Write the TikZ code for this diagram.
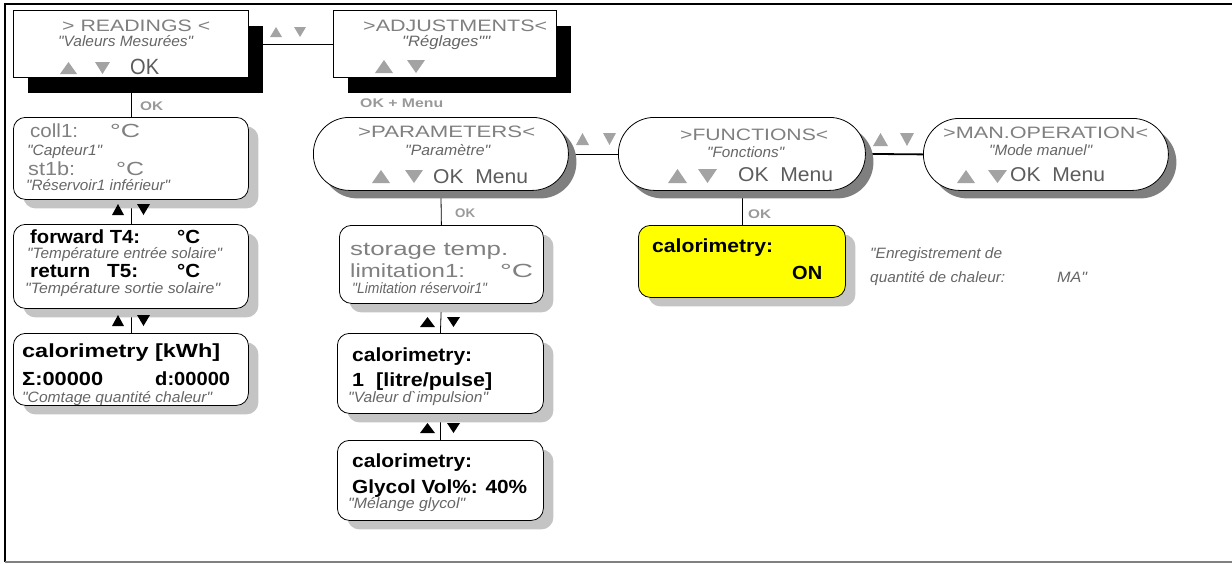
\documentclass[tikz,border=0pt]{standalone}
\usepackage{fontspec}
\usepackage{graphicx}
\setmainfont{Liberation Sans}
\newfontfamily\notefont{Liberation Sans}
\usetikzlibrary{shadows,backgrounds}

\definecolor{hdgrey}{HTML}{808080}
\definecolor{okgrey}{HTML}{5C5C5C}
\definecolor{itgrey}{HTML}{666666}
\definecolor{trigrey}{HTML}{A3A3A3}
\definecolor{lblgrey}{HTML}{999999}
\definecolor{shlight}{HTML}{C4C4C4}
\definecolor{shdark}{HTML}{7F7F7F}
\definecolor{calyellow}{HTML}{FFFF00}

% stretch a text horizontally to a given width (in pt), keeping its height
\newcommand{\fitw}[2]{\resizebox{#1pt}{\height}{#2}}
\newcommand{\fhd}{\fontsize{16.5}{17}\selectfont\color{hdgrey}}
\newcommand{\fbody}{\fontsize{19}{20}\selectfont\color{hdgrey}}
\newcommand{\fbold}{\fontsize{19}{20}\selectfont\bfseries\color{black}}
\newcommand{\fnote}{\notefont\fontsize{15}{16}\selectfont\itshape\color{itgrey}}
\newcommand{\fkey}{\fontsize{20}{20}\selectfont\color{okgrey}}
\newcommand{\flbl}{\fontsize{12.5}{13}\selectfont\bfseries\color{lblgrey}}
% key triangles: x-left, x-right, y-top, y-bottom, colour
\newcommand{\keyup}[5]{\fill[#5] (#1,#4) -- (#2,#4) -- ({(#1+#2)/2},#3) -- cycle;}
\newcommand{\keydn}[5]{\fill[#5] (#1,#3) -- (#2,#3) -- ({(#1+#2)/2},#4) -- cycle;}

\begin{document}
\begin{tikzpicture}[x=1pt,y=-1pt,
  lbl/.style={inner sep=0pt, anchor=base west},
  menubox/.style={draw=black, fill=white, line width=0.8pt, anchor=north west, inner sep=0pt,
    drop shadow={shadow xshift=15pt, shadow yshift=-16pt, fill=black, opacity=1}},
  rbox/.style={draw=black, fill=white, line width=0.8pt, rounded corners=12pt, anchor=north west, inner sep=0pt,
    drop shadow={shadow xshift=10pt, shadow yshift=-9pt, fill=shlight, opacity=1}},
  pill/.style={draw=black, fill=white, line width=0.8pt, rounded corners=36pt, anchor=north west, inner sep=0pt,
    drop shadow={shadow xshift=8pt, shadow yshift=-8pt, fill=shdark, opacity=1}},
  link/.style={draw=black, line width=0.8pt},
]
\useasboundingbox (0,0) rectangle (1232,563);

% frame
\draw[black, line width=1.6pt] (5,562) -- (5,4) -- (1240,4);
\draw[gray, line width=1.2pt] (5,562) -- (1240,562);

% menu boxes
\node[menubox, minimum width=235pt, minimum height=67pt] (read) at (13,10) {};
\node[menubox, minimum width=223pt, minimum height=67pt] (adj) at (333,10) {};

\node[rbox, minimum width=235pt, minimum height=82pt] (coll) at (13,117) {};
\node[rbox, minimum width=235pt, minimum height=84pt] (fwd) at (13,224) {};
\node[rbox, minimum width=235pt, minimum height=72pt] (cal) at (13,333) {};

\node[pill, minimum width=255pt, minimum height=73pt] (params) at (313,117) {};
\node[pill, minimum width=247pt, minimum height=73pt] (funcs) at (618,117) {};
\node[pill, minimum width=245pt, minimum height=72pt] (manop) at (923,118) {};

\node[rbox, minimum width=204pt, minimum height=78pt] (store) at (339,225) {};
\node[rbox, minimum width=206pt, minimum height=80pt] (litre) at (337,333) {};
\node[rbox, minimum width=206pt, minimum height=80pt] (glycol) at (337,440) {};
\node[rbox, fill=calyellow, minimum width=207pt, minimum height=72pt] (calon) at (638,225) {};

% connectors
\begin{scope}[on background layer]
\draw[link] (read.east) -- (adj.west);
\draw[link] (read.south) -- (coll.north);
\draw[link] (coll.south) -- (fwd.north);
\draw[link] (fwd.south) -- (cal.north);
\draw[link] (params.east) -- (funcs.west);
\draw[black, line width=1.8pt] (funcs.east) -- (manop.west);
\draw[link] (params.south) -- (store.north);
\draw[link] (store.south) -- (litre.north);
\draw[link] (litre.south) -- (glycol.north);
\draw[link] (funcs.south) -- (calon.north);
\end{scope}

% READINGS
\node[lbl] (readt) at (62,31.5) {\fitw{148}{\fhd > READINGS <}};
\node[lbl] (readn) at (58,46) {\fitw{135}{\fnote "Valeurs Mesurées"}};
\node[lbl] (readk) at (130,74) {\fitw{29}{\fontsize{22}{22}\selectfont\color{okgrey}OK}};
\keyup{60}{77}{62}{74}{trigrey}
\keydn{95}{110}{62}{74}{trigrey}
\keyup{270}{282}{27}{37}{trigrey}
\keydn{294}{306}{27}{37}{trigrey}

% ADJUSTMENTS
\node[lbl] (adjt) at (363,31.5) {\fitw{184}{\fhd >ADJUSTMENTS<}};
\node[lbl] (adjn) at (402,46.5) {\fitw{88}{\fnote "Réglages""}};
\keyup{375}{393}{60}{73}{trigrey}
\keydn{407}{425}{60}{73}{trigrey}

\node[lbl] (ok1) at (140,110) {\fitw{23}{\flbl OK}};
\node[lbl] (okmenu) at (360,107) {\fitw{83}{\flbl OK + Menu}};

% readings chain
\node[lbl] (c1a) at (30,137) {\fitw{48}{\fbody coll1:}};
\node[lbl] (c1b) at (110,137) {\fitw{30}{\fbody °C}};
\node[lbl] (c1n) at (27,155) {\fitw{75}{\fnote "Capteur1"}};
\node[lbl] (c2a) at (28,175) {\fitw{47}{\fbody st1b:}};
\node[lbl] (c2b) at (116,175) {\fitw{28}{\fbody °C}};
\node[lbl] (c2n) at (26,190) {\fitw{144}{\fnote "Réservoir1 inférieur"}};
\keyup{112}{124}{204}{215}{black}
\keydn{137}{150}{204}{215}{black}

\node[lbl] (f1a) at (30,243) {\fitw{110}{\fbold forward T4:}};
\node[lbl] (f1b) at (177,243) {\fitw{23}{\fbold °C}};
\node[lbl] (f1n) at (27,258) {\fitw{195}{\fnote "Température entrée solaire"}};
\node[lbl] (f2a) at (30,277) {\fitw{60}{\fbold return}};
\node[lbl] (f2b) at (107,277) {\fitw{31}{\fbold T5:}};
\node[lbl] (f2c) at (177,277) {\fitw{23}{\fbold °C}};
\node[lbl] (f2n) at (25,293) {\fitw{195}{\fnote "Température sortie solaire"}};
\keyup{112}{124}{315}{326}{black}
\keydn{137}{150}{315}{326}{black}

\node[lbl] (k1) at (22,357) {\fitw{198}{\fbold calorimetry [kWh]}};
\node[lbl] (k2a) at (22,385) {\fitw{81}{\fbold Σ:00000}};
\node[lbl] (k2b) at (155,385) {\fitw{75}{\fbold d:00000}};
\node[lbl] (kn) at (22,402) {\fitw{190}{\fnote "Comtage quantité chaleur"}};

% PARAMETERS
\node[lbl] (part) at (358,137) {\fitw{177}{\fhd >PARAMETERS<}};
\node[lbl] (parn) at (405,155) {\fitw{85}{\fnote "Paramètre"}};
\keyup{372}{390}{170}{183}{trigrey}
\keydn{405}{423}{170}{183}{trigrey}
\node[lbl] (park) at (433,183) {\fitw{95}{\fkey OK~~Menu}};
\keyup{576}{589}{133}{145}{trigrey}
\keydn{603}{616}{133}{145}{trigrey}
\node[lbl] (ok2) at (455,217) {\fitw{20}{\flbl OK}};

\node[lbl] (s1) at (350,255) {\fitw{158}{\fbody storage temp.}};
\node[lbl] (s2a) at (350,277) {\fitw{115}{\fbody limitation1:}};
\node[lbl] (s2b) at (500,277) {\fitw{33}{\fbody °C}};
\node[lbl] (sn) at (352,293) {\fitw{135}{\fnote "Limitation réservoir1"}};
\keyup{420}{435}{317}{327}{black}
\keydn{447}{460}{317}{327}{black}

\node[lbl] (l1) at (352,361) {\fitw{120}{\fbold calorimetry:}};
\node[lbl] (l2) at (352,386) {\fitw{140}{\fbold 1~~[litre/pulse]}};
\node[lbl] (ln) at (348,402) {\fitw{140}{\fnote "Valeur d`impulsion"}};
\keyup{420}{435}{423}{433}{black}
\keydn{447}{460}{423}{433}{black}

\node[lbl] (g1) at (352,467) {\fitw{120}{\fbold calorimetry:}};
\node[lbl] (g2) at (352,493) {\fitw{175}{\fbold Glycol Vol\%: 40\%}};
\node[lbl] (gn) at (348,508) {\fitw{117}{\fnote "Mélange glycol"}};

% FUNCTIONS
\node[lbl] (funt) at (680,140) {\fitw{148}{\fhd >FUNCTIONS<}};
\node[lbl] (funn) at (707,157) {\fitw{77}{\fnote "Fonctions"}};
\keyup{668}{687}{169}{183}{trigrey}
\keydn{698}{717}{169}{183}{trigrey}
\node[lbl] (funk) at (738,181) {\fitw{95}{\fkey OK~~Menu}};
\keyup{873}{888}{133}{146}{trigrey}
\keydn{900}{914}{133}{146}{trigrey}
\node[lbl] (ok3) at (748,218) {\fitw{23}{\flbl OK}};

\node[lbl] (y1) at (652,252) {\fitw{121}{\fbold calorimetry:}};
\node[lbl] (y2) at (792,279) {\fitw{30}{\fbold ON}};

% MAN.OPERATION
\node[lbl] (mant) at (943,138) {\fitw{205}{\fhd >MAN.OPERATION<}};
\node[lbl] (mann) at (989,155) {\fitw{103}{\fnote "Mode manuel"}};
\keyup{957}{975}{170}{183}{trigrey}
\keydn{988}{1007}{170}{183}{trigrey}
\node[lbl] (mank) at (1010,181) {\fitw{95}{\fkey OK~~Menu}};

\node[lbl] (note1) at (870,258) {\fitw{132}{\fnote "Enregistrement de}};
\node[lbl] (note2) at (870,282) {\fitw{135}{\fnote quantité de chaleur:}};
\node[lbl] (note3) at (1057,282) {\fitw{30}{\fnote MA"}};
\end{tikzpicture}
\end{document}
